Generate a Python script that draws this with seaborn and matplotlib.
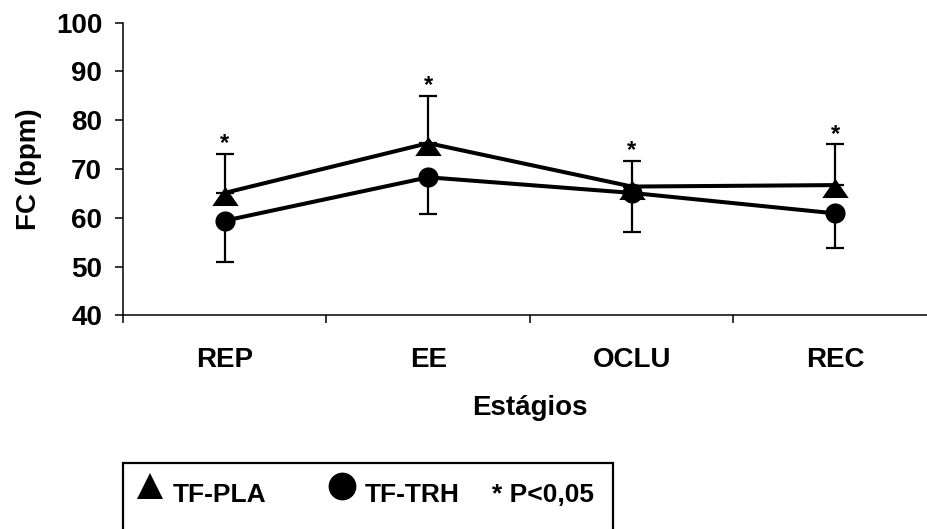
import numpy as np
import pandas as pd
import seaborn as sns
import matplotlib
matplotlib.use("Agg")
import matplotlib.pyplot as plt
from matplotlib.lines import Line2D
from matplotlib.patches import Rectangle

# Heart rate (bpm) per stage, mean and SD for each group
stages = ["REP", "EE", "OCLU", "REC"]
pla_mean = [65.1, 75.3, 66.4, 66.7]
pla_sd = [8.0, 9.7, 5.3, 8.4]
trh_mean = [59.4, 68.3, 65.1, 60.9]
trh_sd = [8.4, 7.6, 8.0, 7.0]
y_ticks = [40, 50, 60, 70, 80, 90, 100]

sns.set_theme(style="white")
plt.rcParams["font.family"] = ["Liberation Sans", "DejaVu Sans"]
plt.rcParams["font.weight"] = "bold"
for key in ["text.color", "axes.labelcolor", "xtick.color", "ytick.color"]:
    plt.rcParams[key] = "black"

FS = 20
W, H = 928, 529
fig = plt.figure(figsize=(W / 100, H / 100), dpi=100)
ax = fig.add_axes([123 / W, 1 - 315.3 / H, 814 / W, (315.3 - 22.7) / H])

tri = [(0, 0.5), (-1, -0.95), (1, -0.95), (0, 0.5)]
x = np.arange(len(stages))

pla = pd.DataFrame({"pos": x, "fc": pla_mean})
trh = pd.DataFrame({"pos": x, "fc": trh_mean})

# error bars: upward for TF-PLA, downward for TF-TRH
ax.errorbar(x, pla_mean, yerr=[np.zeros(len(stages)), pla_sd], fmt="none",
            ecolor="black", elinewidth=1.6, capsize=6.5, capthick=1.6, zorder=2)
ax.errorbar(x, trh_mean, yerr=[trh_sd, np.zeros(len(stages))], fmt="none",
            ecolor="black", elinewidth=1.6, capsize=6.5, capthick=1.6, zorder=2)

sns.lineplot(data=trh, x="pos", y="fc", color="black", marker="o",
             markersize=14.5, markeredgewidth=0, linewidth=2.9, ax=ax, zorder=3)
sns.lineplot(data=pla, x="pos", y="fc", color="black", marker=tri,
             markersize=19, markeredgewidth=0, linewidth=2.9, ax=ax, zorder=3)

# significance marks above the upper error bars
for xi, m, s in zip(x, pla_mean, pla_sd):
    ax.annotate("*", (xi, m + s), xytext=(0, -1), textcoords="offset points",
                ha="center", va="bottom", fontsize=17, fontweight="bold")

ax.set_xlim(-0.5, 3.5)
ax.set_ylim(40, 100)
ax.set_yticks(y_ticks)
ax.set_xticks([-0.5, 0.5, 1.5, 2.5])
ax.set_xticklabels([])
ax.set_xticks(x, minor=True)
ax.set_xticklabels(stages, minor=True)
ax.tick_params(axis="x", which="major", direction="out", length=6, width=1.1,
               color="black", bottom=True)
ax.tick_params(axis="x", which="minor", length=0, pad=23, labelsize=FS)
ax.tick_params(axis="y", direction="out", length=6, width=1.1, color="black",
               left=True, labelsize=FS, pad=9)
for lab in ax.get_xticklabels(minor=True) + ax.get_yticklabels():
    lab.set_fontweight("bold")

for side in ["top", "right"]:
    ax.spines[side].set_visible(False)
for side in ["left", "bottom"]:
    ax.spines[side].set_color("black")
    ax.spines[side].set_linewidth(1.1)

ax.set_xlabel("Estágios", fontsize=FS, fontweight="bold", labelpad=16)
ax.set_ylabel("FC (bpm)", fontsize=FS, fontweight="bold", labelpad=10)
ax.grid(False)

# key box below the axes
fig.add_artist(Rectangle((123 / W, -0.05), (613 - 123) / W, 1 - 463 / H + 0.05,
                         transform=fig.transFigure, fill=False,
                         edgecolor="black", linewidth=1.6, clip_on=False))
fig.add_artist(Line2D([150 / W], [1 - 486 / H], marker="^", markersize=19,
                      color="black", markeredgewidth=0, transform=fig.transFigure))
fig.add_artist(Line2D([342 / W], [1 - 486 / H], marker="o", markersize=20,
                      color="black", markeredgewidth=0, transform=fig.transFigure))
fig.text(173 / W, 1 - 502 / H, "TF-PLA", fontsize=FS - 1, fontweight="bold",
         va="baseline", ha="left")
fig.text(365 / W, 1 - 502 / H, "TF-TRH", fontsize=FS - 1, fontweight="bold",
         va="baseline", ha="left")
fig.text(492 / W, 1 - 502 / H, "* P<0,05", fontsize=FS - 1, fontweight="bold",
         va="baseline", ha="left")

fig.savefig("out.png", dpi=100)
